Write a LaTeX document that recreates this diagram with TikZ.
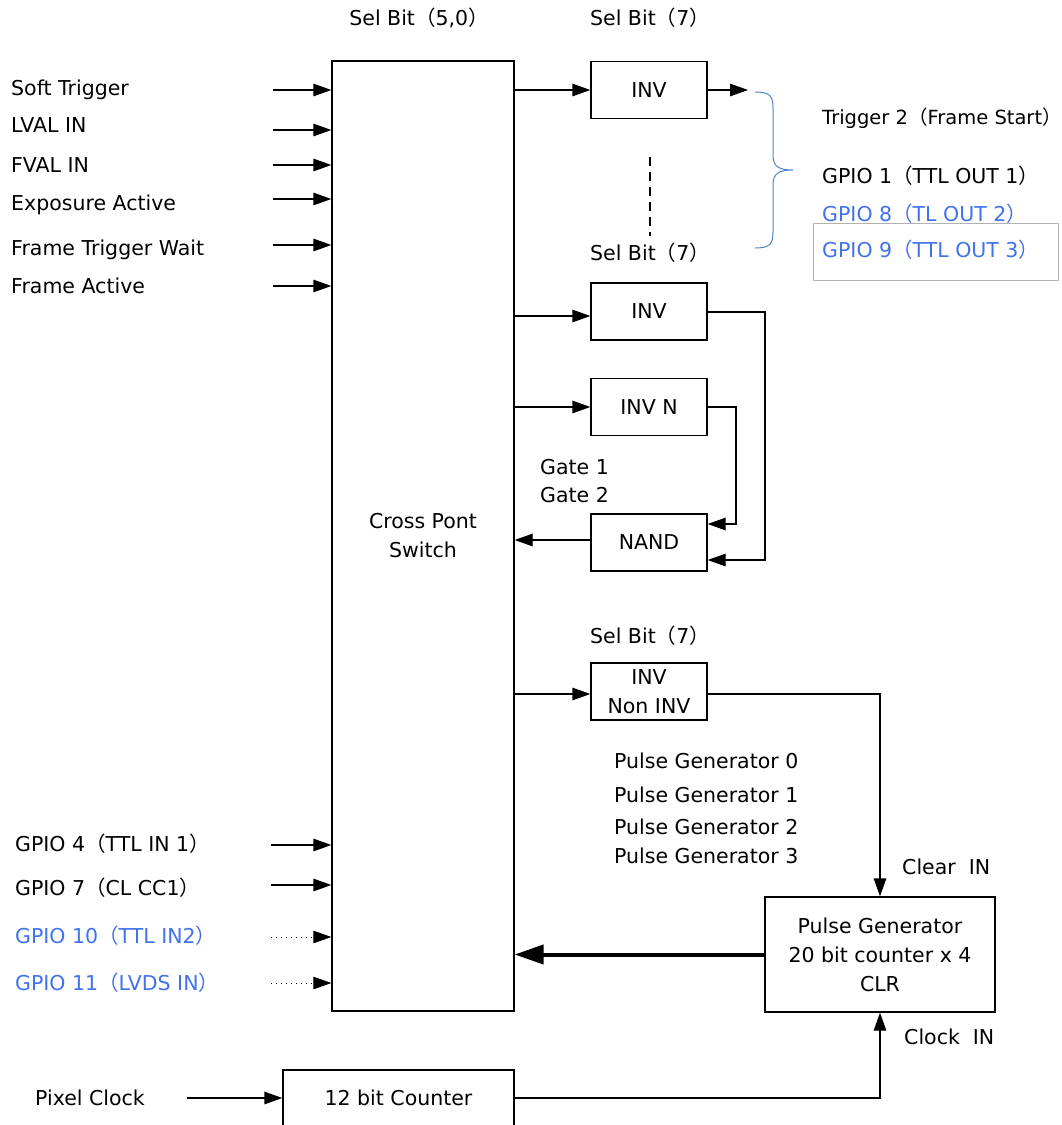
\documentclass[tikz,border=0pt]{standalone}
\usepackage{fontspec}
\setmainfont{DejaVu Sans}
\newfontfamily\cjkf{Noto Sans CJK JP}
\newcommand{\lpar}{{\cjkf （}}
\newcommand{\rpar}{{\cjkf ）}}
\usetikzlibrary{arrows.meta}
\definecolor{gblue}{RGB}{64,114,238}
\definecolor{bracecol}{RGB}{80,130,200}
\begin{document}
\begin{tikzpicture}[x=1pt,y=-1pt,
  every node/.style={font=\fontsize{20.5}{29}\selectfont, inner sep=0pt},
  box/.style={draw, line width=1.3pt, minimum width=116, minimum height=57, align=center},
  arr/.style={line width=1.3pt, -{Triangle[length=18pt,width=12.5pt]}},
  dotarr/.style={line width=0.8pt, dash pattern=on 1pt off 4pt, -{Triangle[length=18pt,width=12.5pt]}},
  lbl/.style={anchor=west},
  blue/.style={text=gblue}]
\useasboundingbox (0,0) rectangle (1061,1125);

% Cross point switch
\node[draw, line width=1.3pt, minimum width=182, minimum height=950, align=center] (cps) at (423,536) {Cross Pont\\Switch};
\node (sb50) at (419,18) {Sel Bit\lpar5,0\rpar};

% left inputs
\foreach \name/\txt/\ty/\ay/\ax in {a/Soft Trigger/90/90/273, b/LVAL IN/125/130/273, c/FVAL IN/165/165/273, d/Exposure Active/205/199/273, e/Frame Trigger Wait/250/245/273, f/Frame Active/286/286/273} {
  \node[lbl] (in\name) at (11,\ty) {\txt};
  \coordinate (s\name) at (\ax,\ay);
  \draw[arr] (s\name) -- (s\name -| cps.west);
}
\node[lbl] (g4) at (15,844) {GPIO 4\lpar TTL IN 1\rpar};
\node[lbl] (g7) at (15,888) {GPIO 7\lpar CL CC1\rpar};
\node[lbl,blue] (g10) at (15,936) {GPIO 10\lpar TTL IN2\rpar};
\node[lbl,blue] (g11) at (15,983) {GPIO 11\lpar LVDS IN\rpar};
\coordinate (sg4) at (271,845);
\coordinate (sg7) at (271,885);
\coordinate (sg10) at (271,937);
\coordinate (sg11) at (271,983);
\draw[arr] (sg4) -- (sg4 -| cps.west);
\draw[arr] (sg7) -- (sg7 -| cps.west);
\draw[dotarr] (sg10) -- (sg10 -| cps.west);
\draw[dotarr] (sg11) -- (sg11 -| cps.west);

% INV 1
\node (sb7a) at (650,18) {Sel Bit\lpar7\rpar};
\node[box] (inv1) at (649,90) {INV};
\draw[arr] (cps.east |- inv1) -- (inv1.west);
\coordinate (inv1out) at (748,90);
\draw[arr] (inv1.east) -- (inv1out);
\coordinate (dsh1) at (650,157);
\coordinate (dsh2) at (650,236);
\draw[line width=1.3pt, dash pattern=on 9pt off 6pt] (dsh1) -- (dsh2);
\node (sb7b) at (650,253) {Sel Bit\lpar7\rpar};

% brace
\draw[bracecol, line width=1pt] (755,92) .. controls (770,92) and (773,96) .. (773,108) -- (773,155) .. controls (773,166) and (778,170) .. (793,170) .. controls (778,170) and (773,174) .. (773,185) -- (773,232) .. controls (773,244) and (770,248) .. (755,248);

\node[lbl, font=\fontsize{19.5}{29}\selectfont] (trig2) at (822,118) {Trigger 2\lpar Frame Start\rpar};
\node[lbl] (gp1) at (822,176) {GPIO 1\lpar TTL OUT 1\rpar};
\node[lbl,blue] (gp8) at (822,214) {GPIO 8\lpar TL OUT 2\rpar};
\node[draw=black!30, line width=1pt, minimum width=245, minimum height=57] (gp9box) at (935.5,251.5) {};
\node[lbl,blue] (gp9) at (822,250) {GPIO 9\lpar TTL OUT 3\rpar};

% INV 2, INV N, NAND
\node[box] (inv2) at (649,311.5) {INV};
\node[box] (invn) at (649,407) {INV N};
\node[box] (nand) at (649,542.5) {NAND};
\draw[arr] (cps.east |- 0,316) -- (inv2.west |- 0,316);
\draw[arr] (cps.east |- invn) -- (invn.west);
\draw[arr] (nand.west |- 0,540) -- (cps.east |- 0,540);
\coordinate (r1) at (765,312);
\coordinate (r2) at (736,407);
\draw[arr] (inv2.east |- r1) -- (r1) -- (r1 |- 0,560) -- (nand.east |- 0,560);
\draw[arr] (invn.east |- r2) -- (r2) -- (r2 |- 0,524) -- (nand.east |- 0,524);
\node[lbl] (gate1) at (540,467) {Gate 1};
\node[lbl] (gate2) at (540,495) {Gate 2};

% INV / Non INV
\node (sb7c) at (650,636) {Sel Bit\lpar7\rpar};
\node[box] (invni) at (649,691.5) {INV\\Non INV};
\draw[arr] (cps.east |- 0,694) -- (invni.west |- 0,694);

% Pulse generator
\node[lbl] (pg0) at (614,761) {Pulse Generator 0};
\node[lbl] (pg1) at (614,795) {Pulse Generator 1};
\node[lbl] (pg2) at (614,827) {Pulse Generator 2};
\node[lbl] (pg3) at (614,856) {Pulse Generator 3};
\node[draw, line width=1.3pt, minimum width=230, minimum height=115, align=center] (pgen) at (880,954.5) {Pulse Generator\\20 bit counter x 4\\CLR};
\coordinate (clr) at (880,694);
\draw[arr] (invni.east |- clr) -- (clr) -- (pgen.north);
\node[lbl] (clrin) at (902,867) {Clear\ \ IN};
\node[lbl] (clkin) at (904,1037) {Clock\ \ IN};
\draw[line width=4pt, -{Triangle[length=29pt,width=19pt]}] (pgen.west) -- (pgen.west -| cps.east);

% 12 bit counter
\node[draw, line width=1.3pt, minimum width=231, minimum height=56] (cnt) at (398.5,1098) {12 bit Counter};
\node (pix) at (90,1098) {Pixel Clock};
\coordinate (pixs) at (187,1098);
\draw[arr] (pixs) -- (cnt.west);
\coordinate (clk) at (880,1098);
\draw[arr] (cnt.east) -- (clk) -- (pgen.south);
\end{tikzpicture}
\end{document}
